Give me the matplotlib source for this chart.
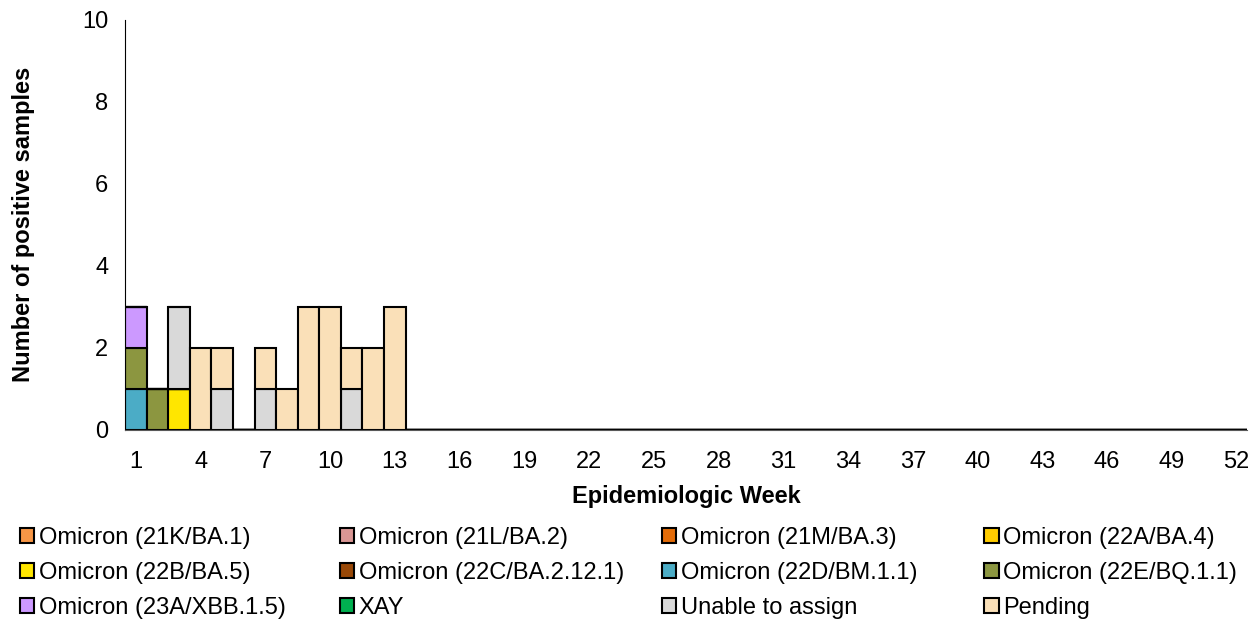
import matplotlib.pyplot as plt
import numpy as np

plt.rcParams['font.family'] = ['Liberation Sans', 'DejaVu Sans']

weeks = np.arange(1, 53)

variants = ["Omicron (21K/BA.1)", "Omicron (21L/BA.2)", "Omicron (21M/BA.3)",
            "Omicron (22A/BA.4)", "Omicron (22B/BA.5)", "Omicron (22C/BA.2.12.1)",
            "Omicron (22D/BM.1.1)", "Omicron (22E/BQ.1.1)", "Omicron (23A/XBB.1.5)",
            "XAY", "Unable to assign", "Pending"]
colors = ["#F79646", "#D99694", "#E36C09", "#FFCC00", "#FFE600", "#984807",
          "#4BACC6", "#8C9640", "#CC99FF", "#00B050", "#D9D9D9", "#FAE0B8"]

# counts per week (weeks 1-13, rest zero)
counts = {
    "Omicron (22B/BA.5)":   [0, 0, 1],
    "Omicron (22D/BM.1.1)": [1],
    "Omicron (22E/BQ.1.1)": [1, 1],
    "Omicron (23A/XBB.1.5)": [1],
    "Unable to assign":     [0, 0, 2, 0, 1, 0, 1, 0, 0, 0, 1],
    "Pending":              [0, 0, 0, 2, 1, 0, 1, 1, 3, 3, 1, 2, 3],
}

fig = plt.figure(figsize=(12.54, 6.21), dpi=100)
ax = fig.add_axes([0.0997, 0.308, 0.895, 0.66])

bottom = np.zeros(len(weeks))
handles = []
for name, col in zip(variants, colors):
    vals = np.zeros(len(weeks))
    v = counts.get(name, [])
    vals[:len(v)] = v
    bars = ax.bar(weeks, vals, width=1.0, bottom=bottom, color=col,
                  edgecolor="black", linewidth=1.5, label=name)
    handles.append(bars)
    bottom += vals

ax.set_xlim(0.5, 52.5)
ax.set_ylim(0, 10)
ax.set_xticks(np.arange(1, 53, 3))
ax.set_yticks(np.arange(0, 11, 2))
ax.tick_params(axis="x", length=0, labelsize=17, pad=15)
ax.tick_params(axis="y", length=0, labelsize=17, pad=12)
for s in ["top", "right"]:
    ax.spines[s].set_visible(False)
ax.spines["left"].set_color("black")
ax.spines["bottom"].set_color("#595959")
ax.set_xlabel("Epidemiologic Week", fontsize=17, fontweight="bold", labelpad=9)
ax.set_ylabel("Number of positive samples", fontsize=17, fontweight="bold", labelpad=34)

# legend laid out row-major in 4 fixed-width columns
ncol = 4
col_x = [0.016, 0.271, 0.528, 0.785]
for c in range(ncol):
    idx = list(range(c, len(variants), ncol))
    fig.legend([handles[i] for i in idx], [variants[i] for i in idx],
               loc="upper left", bbox_to_anchor=(col_x[c], 0.151),
               frameon=False, fontsize=17, handlelength=0.6, handleheight=0.6,
               handletextpad=0.2, labelspacing=0.55, borderaxespad=0,
               borderpad=0)

fig.savefig("out.png", dpi=100)
